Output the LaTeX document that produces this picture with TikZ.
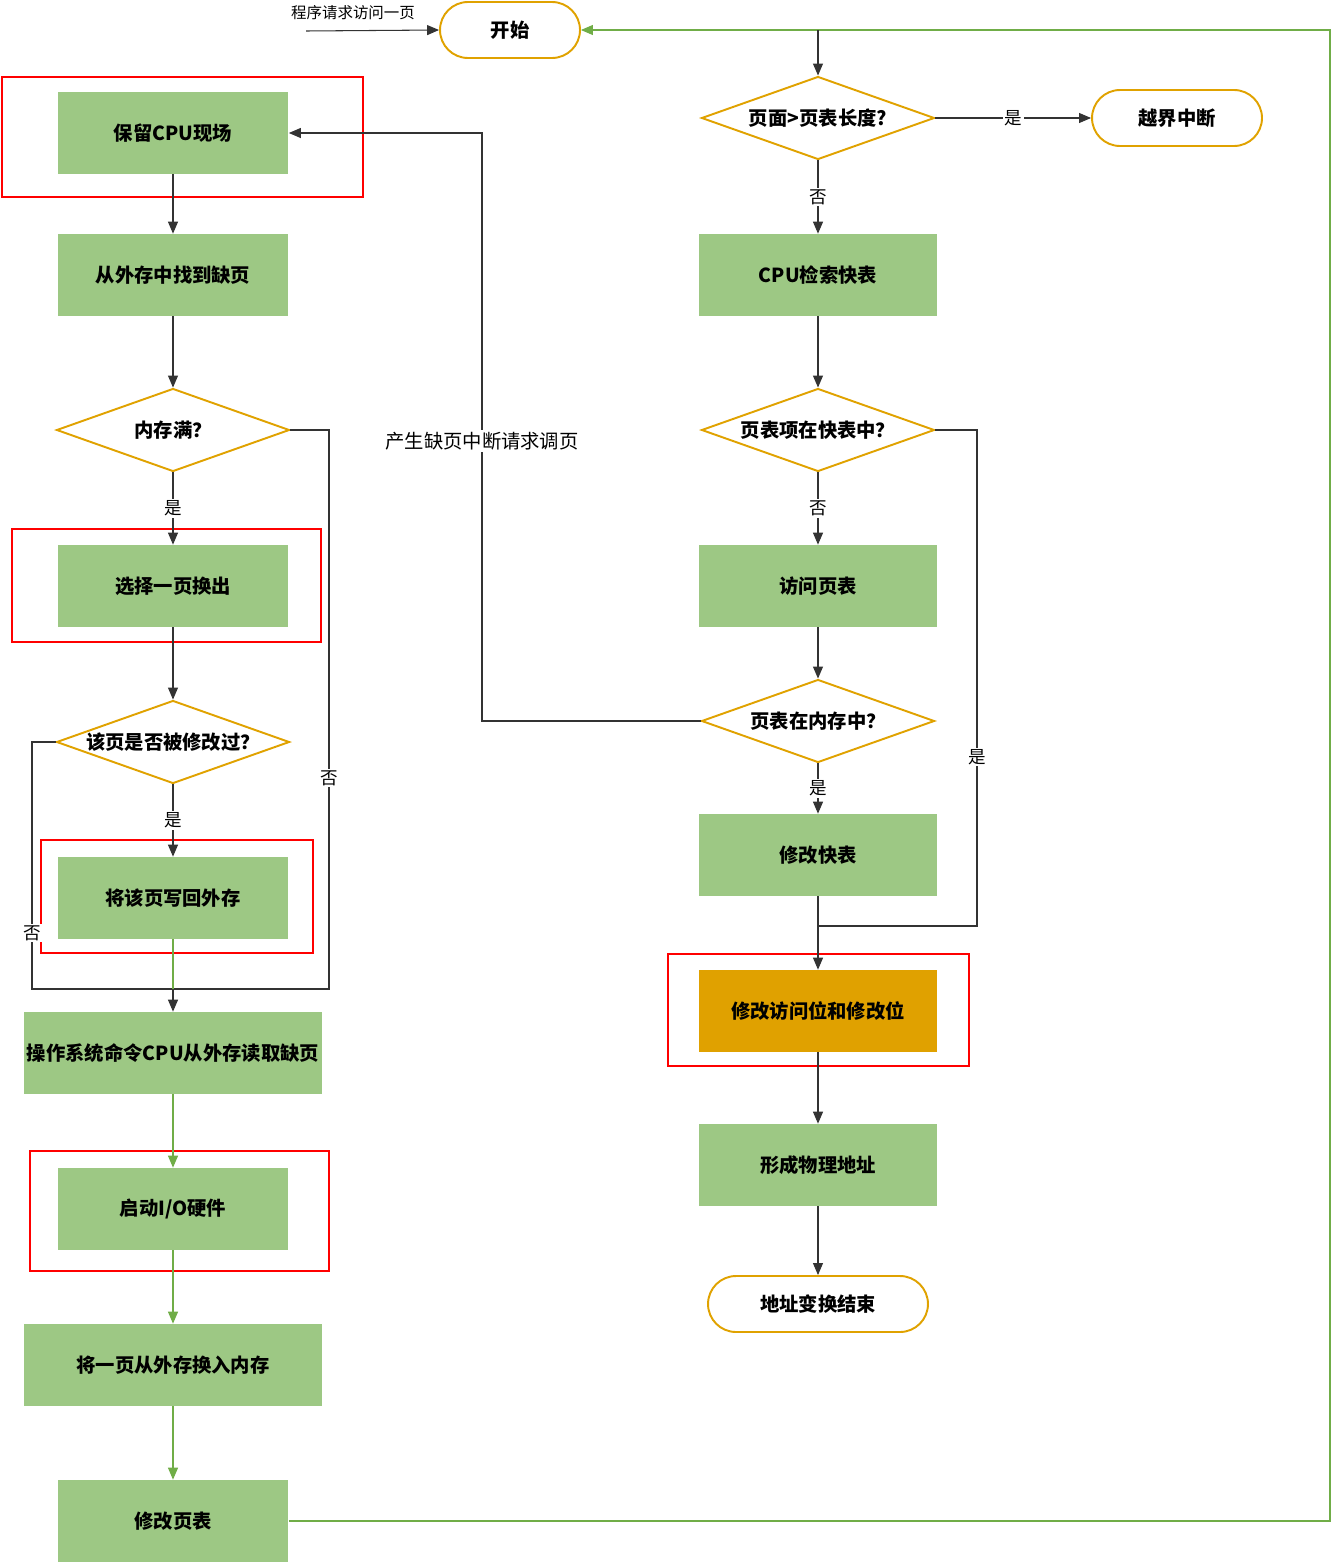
\documentclass[tikz,border=0pt]{standalone}
\usepackage{fontspec}
\newfontfamily\cjk{Noto Sans CJK SC}
\usetikzlibrary{positioning,shapes.geometric,arrows.meta}
\definecolor{boxgreen}{RGB}{157,200,132}
\definecolor{lineorange}{RGB}{224,162,0}
\definecolor{fillorange}{RGB}{224,161,0}
\definecolor{loopgreen}{RGB}{112,173,71}
\definecolor{framered}{RGB}{255,0,0}
\newcommand{\dtxt}[1]{\makebox[0pt]{#1}}

\begin{document}
\begin{tikzpicture}[x=0.02cm,y=-0.02cm,
		box/.style={fill=boxgreen,minimum width=4.62cm,minimum height=1.64cm,inner sep=0pt,font=\cjk\bfseries\fontsize{11}{13}\selectfont},
		widebox/.style={box,minimum width=5.96cm},
		decision/.style={diamond,draw=lineorange,line width=1.1pt,minimum width=4.66cm,minimum height=1.66cm,inner sep=0pt,font=\cjk\bfseries\fontsize{11}{13}\selectfont},
		terminal/.style={draw=lineorange,line width=1.1pt,rounded corners=0.56cm,minimum height=1.12cm,inner sep=0pt,font=\cjk\bfseries\fontsize{11}{13}\selectfont},
		redframe/.style={draw=framered,line width=1.1pt},
		line/.style={draw=black!80,line width=0.6pt},
		arr/.style={line,-{Triangle[length=0.24cm,width=0.2cm]}},
		garr/.style={draw=loopgreen,line width=0.6pt,-{Triangle[length=0.24cm,width=0.2cm,fill=loopgreen]}},
		lab/.style={font=\cjk\fontsize{10}{12}\selectfont,fill=white,inner sep=1pt},
	]
		\useasboundingbox (0,0) rectangle (1332,1565);

		\draw[redframe] (2,77) rectangle (363,197);
		\draw[redframe] (12,529) rectangle (321,642);
		\draw[redframe] (41,840) rectangle (313,953);
		\draw[redframe] (30,1151) rectangle (329,1271);
		\draw[redframe] (668,954) rectangle (969,1066);

		\node[terminal,minimum width=2.8cm] (start) at (510,30) {开始};
		\node[decision] (d1) at (818,118) {\dtxt{页面>页表长度?}};
		\node[terminal,minimum width=3.4cm] (over) at (1177,118) {越界中断};
		\node[box,minimum width=4.76cm] (cpu) at (818,275) {CPU检索快表};
		\node[decision] (d2) at (818,430) {\dtxt{页表项在快表中？}};
		\node[box,minimum width=4.76cm] (visit) at (818,586) {访问页表};
		\node[decision] (d3) at (818,721) {\dtxt{页表在内存中？}};
		\node[box,minimum width=4.76cm] (modtlb) at (818,855) {修改快表};
		\node[box,minimum width=4.76cm,fill=fillorange] (modbits) at (818,1011) {修改访问位和修改位};
		\node[box,minimum width=4.76cm] (phys) at (818,1165) {形成物理地址};
		\node[terminal,minimum width=4.4cm] (finish) at (818,1304) {地址变换结束};

		\node[box] (save) at (173,133) {保留CPU现场};
		\node[box] (find) at (173,275) {从外存中找到缺页};
		\node[decision] (d4) at (173,430) {\dtxt{内存满？}};
		\node[box] (choose) at (173,586) {选择一页换出};
		\node[decision] (d5) at (173,742) {\dtxt{该页是否被修改过？}};
		\node[box] (write) at (173,898) {将该页写回外存};
		\node[widebox] (os) at (173,1053) {操作系统命令CPU从外存读取缺页};
		\node[box] (io) at (173,1209) {启动I/O硬件};
		\node[widebox] (load) at (173,1365) {将一页从外存换入内存};
		\node[box] (modpt) at (173,1521) {修改页表};

		\coordinate (req) at (306,31);
		\coordinate (topj) at (818,30);
		\coordinate (loopc) at (1330,30);
		\coordinate (rc) at (977,926);
		\coordinate (rj) at (818,926);
		\coordinate (lc) at (482,133);
		\coordinate (lj) at (173,989);
		\coordinate (lr) at (329,989);
		\coordinate (ll) at (32,989);

		\draw[arr] (req) -- (start.west);
		\node[lab,fill=none] (reqlab) at (353,13) {\fontsize{8.8}{10}\selectfont 程序请求访问一页};
		\draw[garr] (modpt.east) -| (loopc) -- (start.east);
		\draw[arr] (topj) -- (d1.north);
		\draw[arr] (d1.east) -- node[lab] (yes1) {是} (over.west);
		\draw[arr] (d1.south) -- node[lab] (no1) {否} (cpu.north);
		\draw[arr] (cpu) -- (d2.north);
		\draw[arr] (d2.south) -- node[lab] (no2) {否} (visit.north);
		\draw[line] (d2.east) -| (rc) -- (rj);
		\node[lab] (yes2) at (977,757) {是};
		\draw[arr] (visit) -- (d3.north);
		\draw[arr] (d3.south) -- node[lab] (yes3) {是} (modtlb.north);
		\draw[arr] (d3.west) -| (lc) -- (save.east);
		\node[lab,font=\cjk\fontsize{11}{13}\selectfont] (fault) at (482,441) {产生缺页中断请求调页};
		\draw[line] (modtlb) -- (rj);
		\draw[arr] (rj) -- (modbits.north);
		\draw[arr] (modbits) -- (phys);
		\draw[arr] (phys) -- (finish);

		\draw[arr] (save) -- (find);
		\draw[arr] (find) -- (d4.north);
		\draw[arr] (d4.south) -- node[lab] (yes4) {是} (choose.north);
		\draw[line] (d4.east) -| (lr) -- (lj);
		\node[lab] (no4) at (329,778) {否};
		\draw[arr] (choose) -- (d5.north);
		\draw[arr] (d5.south) -- node[lab] (yes5) {是} (write.north);
		\draw[line] (d5.west) -| (ll) -- (lj);
		\node[lab] (no5) at (32,933) {否};
		\draw[draw=loopgreen,line width=0.6pt] (write) -- (lj);
		\draw[arr] (lj) -- (os.north);
		\draw[garr] (os) -- (io);
		\draw[garr] (io) -- (load);
		\draw[garr] (load) -- (modpt);
	\end{tikzpicture}
\end{document}
